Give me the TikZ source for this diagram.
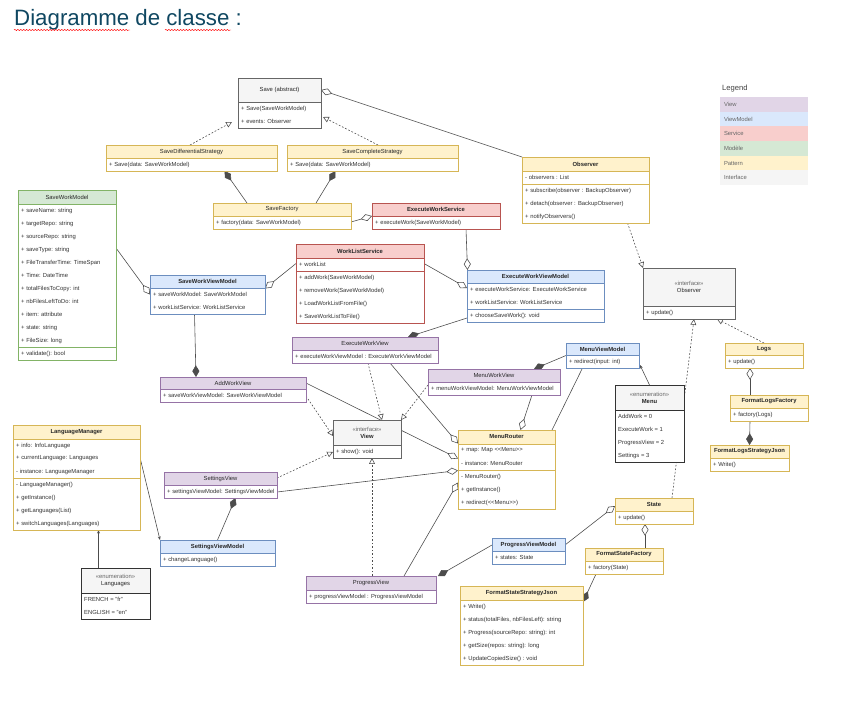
\documentclass[tikz,border=0pt]{standalone}
\usepackage{fontspec}
\setmainfont{Liberation Sans}
\usepackage{xcolor}
\usepackage{tikz}
\usetikzlibrary{arrows.meta, backgrounds, decorations.pathmorphing}

\definecolor{viewfill}{HTML}{E1D5E7}
\definecolor{viewline}{HTML}{9673A6}
\definecolor{vmfill}{HTML}{DAE8FC}
\definecolor{vmline}{HTML}{6C8EBF}
\definecolor{servfill}{HTML}{F8CECC}
\definecolor{servline}{HTML}{B85450}
\definecolor{modfill}{HTML}{D5E8D4}
\definecolor{modline}{HTML}{82B366}
\definecolor{patfill}{HTML}{FFF2CC}
\definecolor{patline}{HTML}{D6B656}
\definecolor{ifacefill}{HTML}{F5F5F5}
\definecolor{ifaceline}{HTML}{666666}
\definecolor{enumfill}{HTML}{F5F5F5}
\definecolor{enumline}{HTML}{333333}
\definecolor{titleblue}{HTML}{0F4761}

%% one UML class: name, left, top, width, header height, colour, title, rows, divider after row
\newcount\nrows
\newcommand{\umlclass}[9]{%
  \global\nrows=0
  \foreach \txt in {#8}{\global\advance\nrows by 1}
  \pgfmathsetmacro\boxh{#5+13*\the\nrows}
  \node[classbox, minimum width=#4*0.3mm, minimum height=\boxh*0.3mm] (#1) at (#2,#3) {};
  \fill[#6fill] (#1.north west) rectangle ([shift={(#4,#5)}]#1.north west);
  \draw[#6line] ([shift={(0,#5)}]#1.north west) -- ++(#4,0);
  \node[headtxt] at ([shift={(#4/2,#5/2)}]#1.north west) {#7};
  \foreach \txt [count=\i] in {#8}
    \node[rowtxt] at ([shift={(3,#5+13*\i-6.5)}]#1.north west) {\txt};
  \ifnum#9>0 \draw[#6line] ([shift={(0,#5+13*#9)}]#1.north west) -- ++(#4,0); \fi
  \draw[#6line] (#1.north west) rectangle (#1.south east);
}

\begin{document}
\begin{tikzpicture}%
                    [x={(0.3mm,0)},
                    y={(0,-0.3mm)},
                    classbox/.style={fill=white, inner sep=0, outer sep=0, anchor=north west},
                    headtxt/.style={font=\fontsize{5}{6}\selectfont, align=center, inner sep=0, text=black!85},
                    rowtxt/.style={font=\fontsize{5}{6}\selectfont, anchor=west, inner sep=0, text=black!80},
                    legrow/.style={anchor=north west, minimum width=88*0.3mm, minimum height=14.7*0.3mm,
                                   text width=80*0.3mm, align=left, inner sep=0, outer sep=0,
                                   font=\fontsize{5}{6}\selectfont, text=black!60},
                    assoc/.style={draw=black!70, line width=0.5pt},
                    agg/.style={assoc, -{Diamond[open, length=10pt, width=6pt]}},
                    comp/.style={assoc, -{Diamond[length=10pt, width=6pt]}},
                    impl/.style={assoc, dash pattern=on 1.5pt off 1.5pt, -{Triangle[open, length=5pt, width=5pt]}},
                    dep/.style={assoc, -{Stealth[length=3pt, width=2.5pt]}}]
\useasboundingbox (0,0) rectangle (862,705);

%% Title
\node[anchor=base west, inner sep=0, font=\fontsize{19}{22}\selectfont, text=titleblue] (title) at (14,26) {Diagramme de classe :};
\draw[red, decorate, decoration={snake, amplitude=0.5pt, segment length=2.5pt}] ([shift={(0,4)}]title.base west) -- ++(116,0);
\draw[red, decorate, decoration={snake, amplitude=0.5pt, segment length=2.5pt}] ([shift={(151,4)}]title.base west) -- ++(66,0);

%% Legend
\node[anchor=west, inner sep=0, font=\fontsize{6.5}{7}\selectfont, text=black!75] (legend) at (722,89) {Legend};
\foreach \lab/\col [count=\i] in {View/view, ViewModel/vm, Service/serv, Modèle/mod, Pattern/pat, Interface/iface}
  \node[legrow, fill=\col fill] (leg\i) at (720,{97+14.7*(\i-1)}) {\lab};

%% Save strategies
\umlclass{save}{238}{78}{83}{24}{iface}{Save (abstract)}{+ Save(SaveWorkModel), + events: Observer}{0}
\umlclass{savediff}{106}{145}{171}{13}{pat}{SaveDifferentialStrategy}{+ Save(data: SaveWorkModel)}{0}
\umlclass{savecomp}{287}{145}{171}{13}{pat}{SaveCompleteStrategy}{+ Save(data: SaveWorkModel)}{0}
\umlclass{savefact}{213}{203}{138}{13}{pat}{SaveFactory}{+ factory(data: SaveWorkModel)}{0}
\umlclass{execserv}{372}{203}{128}{13}{serv}{\bfseries ExecuteWorkService}{+ executeWork(SaveWorkModel)}{0}
\umlclass{observer}{522}{157}{127}{14}{pat}{\bfseries Observer}{- observers : List, + subscribe(observer : BackupObserver), + detach(observer : BackupObserver), + notifyObservers()}{1}

%% Models and view models
\umlclass{savemodel}{18}{190}{98}{14}{mod}{SaveWorkModel}{+ saveName: string, + targetRepo: string, + sourceRepo: string, + saveType: string, + FileTransferTime: TimeSpan, + Time: DateTime, + totalFilesToCopy: int, + nbFilesLeftToDo: int, + item: attribute, + state: string, + FileSize: long, + validate(): bool}{11}
\umlclass{savevm}{150}{275}{115}{13}{vm}{\bfseries SaveWorkViewModel}{+ saveWorkModel: SaveWorkModel, + workListService: WorkListService}{0}
\umlclass{worklist}{296}{244}{128}{14}{serv}{\bfseries WorkListService}{+ workList, + addWork(SaveWorkModel), + removeWork(SaveWorkModel), + LoadWorkListFromFile(), + SaveWorkListToFile()}{1}
\umlclass{execvm}{467}{270}{137}{13}{vm}{\bfseries ExecuteWorkViewModel}{+ executeWorkService: ExecuteWorkService, + workListService: WorkListService, + chooseSaveWork(): void}{2}
\umlclass{menuvm}{566}{343}{73}{12}{vm}{\bfseries MenuViewModel}{+ redirect(input: int)}{0}
\umlclass{setvm}{160}{540}{115}{13}{vm}{\bfseries SettingsViewModel}{+ changeLanguage()}{0}
\umlclass{progvm}{492}{538}{73}{13}{vm}{\bfseries ProgressViewModel}{+ states: State}{0}

%% Views
\umlclass{execview}{292}{337}{146}{13}{view}{ExecuteWorkView}{+ executeWorkViewModel : ExecuteWorkViewModel}{0}
\umlclass{menuview}{428}{369}{132}{13}{view}{MenuWorkView}{+ menuWorkViewModel: MenuWorkViewModel}{0}
\umlclass{addview}{160}{377}{146}{12}{view}{AddWorkView}{+ saveWorkViewModel: SaveWorkViewModel}{0}
\umlclass{setview}{164}{472}{113}{13}{view}{SettingsView}{+ settingsViewModel: SettingsViewModel}{0}
\umlclass{progview}{306}{576}{130}{14}{view}{ProgressView}{+ progressViewModel : ProgressViewModel}{0}

%% Interfaces and enumerations
\umlclass{obsiface}{643}{268}{92}{38}{iface}{{\color{black!60}«interface»}\\Observer}{+ update()}{0}
\umlclass{viewiface}{333}{420}{68}{25}{iface}{{\color{black!60}«interface»}\\\bfseries View}{+ show(): void}{0}
\umlclass{menuenum}{615}{385}{69}{25}{enum}{{\color{black!60}«enumeration»}\\\bfseries Menu}{AddWork = 0, ExecuteWork = 1, ProgressView = 2, Settings = 3}{0}
\umlclass{langenum}{81}{568}{69}{25}{enum}{{\color{black!60}«enumeration»}\\Languages}{FRENCH = "fr", ENGLISH = "en"}{0}

%% Patterns
\umlclass{menurouter}{458}{430}{97}{14}{pat}{\bfseries MenuRouter}{+ map: Map <{}<Menu>{}>, - instance: MenuRouter, - MenuRouter(), + getInstance(), + redirect(<{}<Menu>{}>)}{2}
\umlclass{langmgr}{13}{425}{127}{14}{pat}{\bfseries LanguageManager}{+ info: InfoLanguage, + currentLanguage: Languages, - instance: LanguageManager, - LanguageManager(), + getInstance(), + getLanguages(List), + switchLanguages(Languages)}{3}
\umlclass{logs}{725}{343}{78}{12}{pat}{\bfseries Logs}{+ update()}{0}
\umlclass{logsfact}{730}{395}{78}{13}{pat}{\bfseries FormatLogsFactory}{+ factory(Logs)}{0}
\umlclass{logsjson}{710}{445}{79}{13}{pat}{\bfseries FormatLogsStrategyJson}{+ Write()}{0}
\umlclass{state}{615}{498}{78}{13}{pat}{\bfseries State}{+ update()}{0}
\umlclass{statefact}{585}{548}{78}{13}{pat}{\bfseries FormatStateFactory}{+ factory(State)}{0}
\umlclass{statejson}{460}{586}{123}{14}{pat}{\bfseries FormatStateStrategyJson}{+ Write(), {+ status(totalFiles, nbFilesLeft): string}, + Progress(sourceRepo: string): int, + getSize(repos: string): long, + UpdateCopiedSize() : void}{0}

%% Connectors, drawn behind the boxes
\begin{pgfonlayer}{background}
\draw[agg] (observer.north west) -- ([shift={(0,-13)}]save.east);
\draw[impl] ([shift={(-1.5,0)}]savediff.north) -- ([shift={(-6,-6)}]save.south west);
\draw[impl] ([shift={(5.5,0)}]savecomp.north) -- ([shift={(2,-11)}]save.south east);
\draw[comp] ([shift={(-35,0)}]savefact.north) -- ([shift={(33,0)}]savediff.south);
\draw[comp] ([shift={(34,0)}]savefact.north) -- ([shift={(-37,0)}]savecomp.south);
\draw[agg] ([shift={(0,6)}]savefact.east) -- (execserv.west);
\draw[agg] ([shift={(30,0)}]execserv.south) -- ([shift={(-68,0)}]execvm.north);
\draw[impl] ([shift={(42,0)}]observer.south) -- (obsiface.north west);
\draw[agg] ([shift={(0,-27)}]savemodel.east) -- (savevm.west);
\draw[agg] ([shift={(0,-20)}]worklist.west) -- ([shift={(0,-6)}]savevm.east);
\draw[comp] ([shift={(-13,0)}]savevm.south) -- ([shift={(-37,0)}]addview.north);
\draw[agg] ([shift={(0,-20)}]worklist.east) -- ([shift={(0,-8)}]execvm.west);
\draw[comp] ([shift={(0,22)}]execvm.west) -- ([shift={(43,0)}]execview.north);
\draw[impl] ([shift={(3,0)}]execview.south) -- ([shift={(15,0)}]viewiface.north);
\draw[agg] ([shift={(25,0)}]execview.south) -- ([shift={(0,-26)}]menurouter.west);
\draw[impl] ([shift={(0,3)}]menuview.west) -- (viewiface.north east);
\draw[agg] ([shift={(38,0)}]menuview.south) -- ([shift={(14,0)}]menurouter.north);
\draw[comp] (menuvm.west) -- ([shift={(-26,0)}]menuview.north east);
\draw[assoc] ([shift={(-20,0)}]menuvm.south) -- ([shift={(-3,0)}]menurouter.north east);
\draw[dep] (menuenum.north) -- ([shift={(1,-3)}]menuvm.south east);
\draw[impl] (logs.north) -- ([shift={(-18,0)}]obsiface.south east);
\draw[impl] ([shift={(18,0)}]state.north) -- ([shift={(5,0)}]obsiface.south);
\draw[agg] ([shift={(-19,0)}]logsfact.north) -- ([shift={(-14,0)}]logs.south);
\draw[comp] ([shift={(-19,0)}]logsfact.south) -- (logsjson.north);
\draw[dep] ([shift={(0,-20)}]langmgr.east) -- (setvm.north west);
\draw[dep] ([shift={(-17,0)}]langenum.north) -- ([shift={(22,0)}]langmgr.south);
\draw[agg] ([shift={(0,6)}]addview.north east) -- ([shift={(0,-11)}]menurouter.west);
\draw[impl] ([shift={(0,-6)}]addview.south east) -- ([shift={(0,-3)}]viewiface.west);
\draw[agg] ([shift={(0,7)}]setview.east) -- ([shift={(0,1)}]menurouter.west);
\draw[impl] ([shift={(0,6)}]setview.north east) -- ([shift={(0,13)}]viewiface.west);
\draw[agg] ([shift={(33,0)}]progview.north) -- ([shift={(0,13)}]menurouter.west);
\draw[impl] ([shift={(1,0)}]progview.north) -- ([shift={(5,0)}]viewiface.south);
\draw[comp] (setvm.north) -- ([shift={(15,0)}]setview.south);
\draw[comp] ([shift={(0,-6)}]progvm.west) -- ([shift={(2,0)}]progview.north east);
\draw[agg] ([shift={(0,-6)}]progvm.east) -- ([shift={(0,-5)}]state.west);
\draw[agg] ([shift={(21,0)}]statefact.north) -- ([shift={(-9,0)}]state.south);
\draw[comp] ([shift={(-28,0)}]statefact.south) -- ([shift={(0,16)}]statejson.north east);
\end{pgfonlayer}
\end{tikzpicture}
\end{document}
